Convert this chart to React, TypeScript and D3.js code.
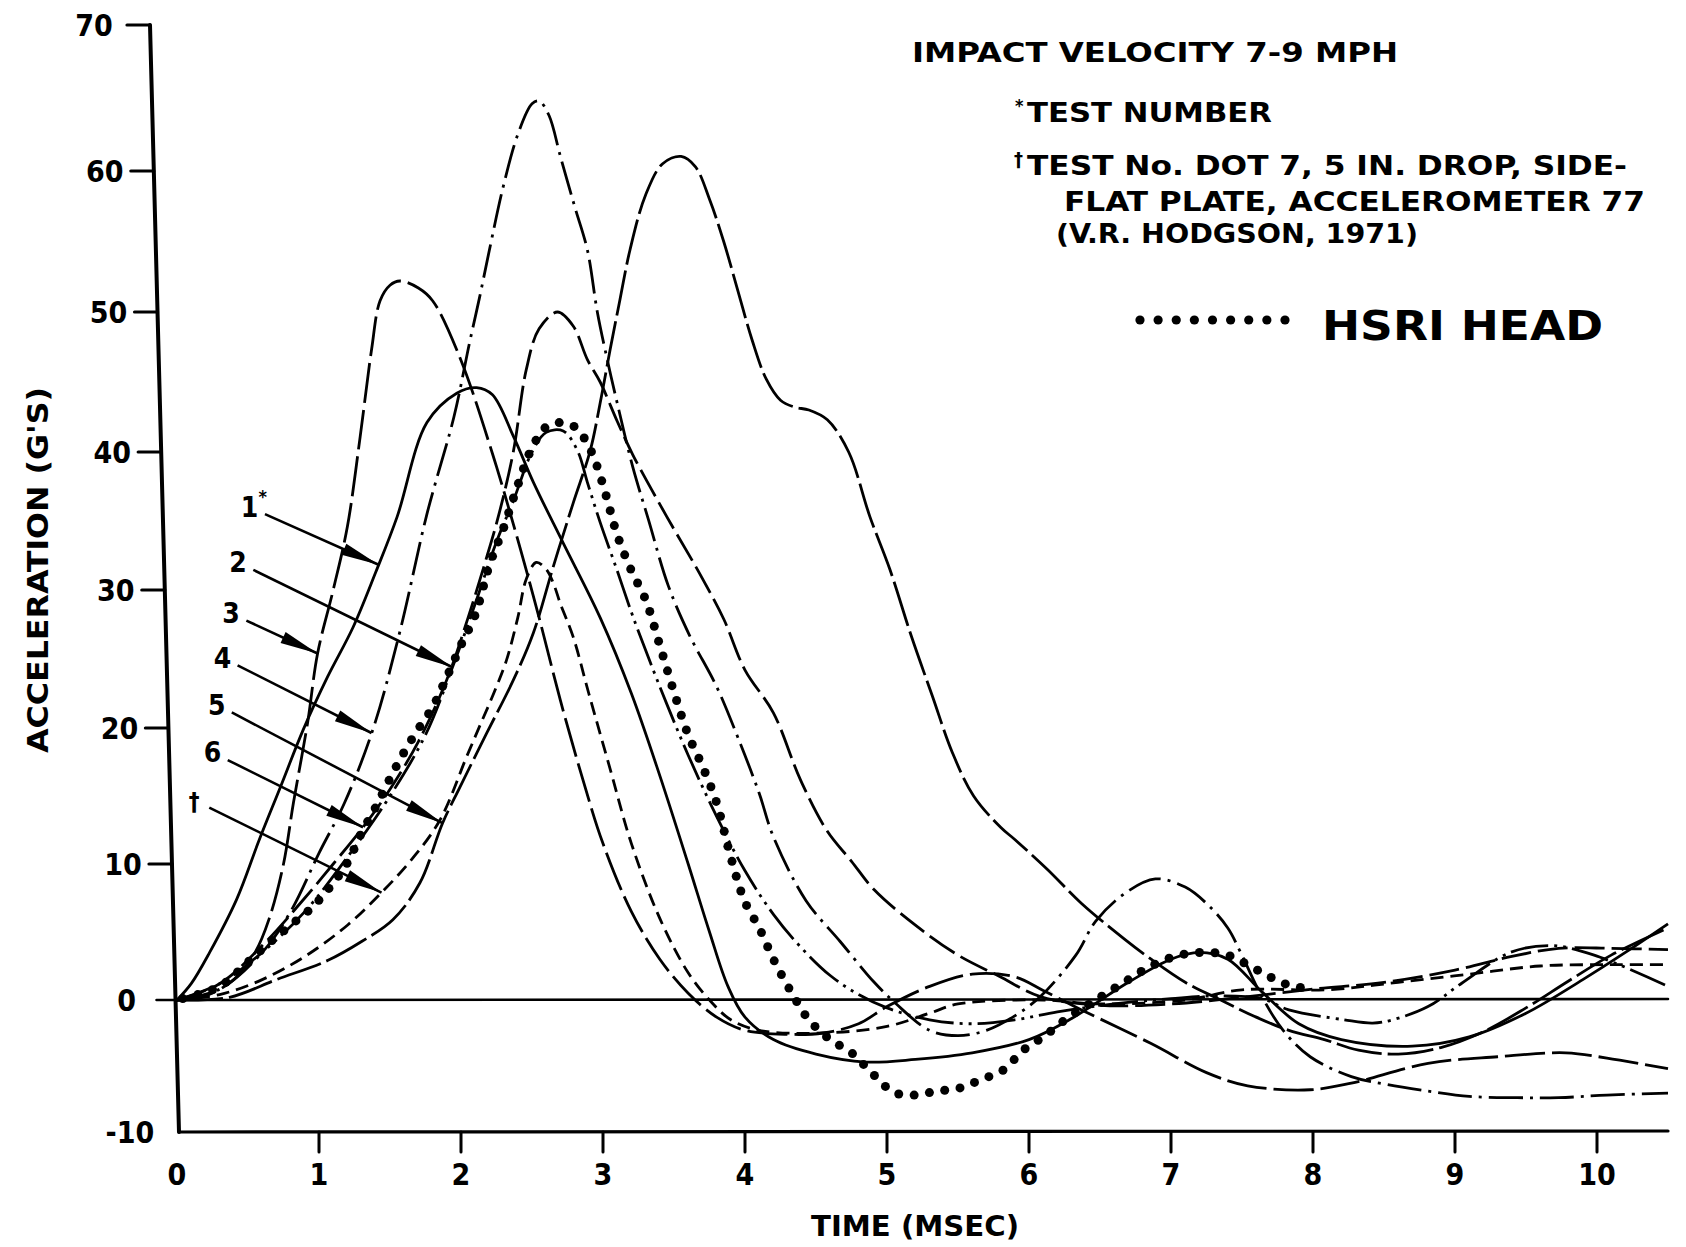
import React, { useEffect, useRef } from "react";
import * as d3 from "d3";

const W = 1686;
const H = 1247;

// axis ticks
const yTickValues = [-10, 0, 10, 20, 30, 40, 50, 60, 70];
const xTickValues = [0, 1, 2, 3, 4, 5, 6, 7, 8, 9, 10];
const xMax = 10.5;

// ---- Test 1 (solid) ----
const t1 = [0, 0.1, 0.23, 0.42, 0.58, 0.73, 0.89, 1.06, 1.24, 1.4, 1.55, 1.76, 1.97, 2.11, 2.22, 2.37, 2.51, 2.72, 2.98, 3.2, 3.4, 3.6, 3.75, 3.88, 4.0, 4.2, 4.5, 4.85, 5.2, 5.6, 6.0, 6.3, 6.7, 7.0, 7.2, 7.4, 7.64, 7.9, 8.2, 8.7, 9.1, 9.5, 9.9, 10.2, 10.5];
const g1 = [0, 1.2, 3.5, 7.4, 11.8, 15.7, 19.9, 23.7, 27.3, 31.3, 35.3, 42.1, 44.2, 44.6, 44.1, 41.1, 37.8, 33.4, 28, 22.5, 16.5, 10, 5, 1, -1.3, -3.0, -4.1, -4.7, -4.5, -4.0, -3.0, -1.4, 1.3, 3.0, 3.5, 3.0, 0.6, -1.8, -3.0, -3.5, -2.8, -1.0, 1.5, 3.5, 5.6];

// ---- Test 2 ----
const t2 = [0, 0.3, 0.6, 0.9, 1.2, 1.5, 1.75, 1.94, 2.1, 2.25, 2.37, 2.5, 2.6, 2.72, 2.82, 2.89, 2.98, 3.1, 3.21, 3.4, 3.6, 3.8, 4.0, 4.2, 4.4, 4.6, 4.8, 5.0, 5.3, 5.6, 5.9, 6.2, 6.6, 7.0, 7.3, 7.64, 7.83, 8.22, 8.42, 8.56, 8.81, 9.05, 9.39, 9.68, 9.98, 10.5];
const g2 = [0, 1.2, 3.5, 6.5, 10.5, 15, 19.5, 24.4, 29, 33.5, 36.5, 40, 41.4, 41.5, 40.1, 37.8, 34.9, 31.4, 28.1, 23, 18, 13.5, 9.5, 6.3, 3.8, 1.8, 0.4, -0.6, -1.5, -1.8, -1.5, -0.9, -0.3, 0.1, 0.3, 0.1, -0.75, -1.5, -1.75, -1.5, -0.5, 1.25, 3.5, 4.0, 3.3, 1.0];

// ---- Test 3 ----
const t3 = [0, 0.2, 0.4, 0.55, 0.65, 0.75, 0.82, 0.92, 0.99, 1.1, 1.2, 1.29, 1.37, 1.43, 1.5, 1.57, 1.7, 1.8, 1.99, 2.23, 2.42, 2.56, 2.7, 2.85, 3.0, 3.2, 3.4, 3.6, 3.8, 4.0, 4.3, 4.55, 4.8, 5.0, 5.3, 5.6, 5.9, 6.1, 6.37, 6.86, 7.25, 7.54, 7.98, 8.27, 8.81, 9.3, 9.78, 10.07, 10.5];
const g3 = [0, 0.3, 1.5, 3.5, 6, 10, 14.5, 20.4, 25.4, 30, 34.6, 41.1, 47.3, 50.8, 51.9, 52.2, 51.7, 50.8, 46.8, 39.6, 32.9, 27.6, 22, 16.5, 11.5, 6.5, 3, 0.5, -1.3, -2.3, -2.6, -2.5, -1.8, -0.5, 1.0, 1.9, 1.7, 0.7, -0.75, -3.3, -5.5, -6.5, -6.8, -6.3, -4.8, -4.3, -4.0, -4.4, -5.2];

// ---- Test 4 ----
const t4 = [0, 0.3, 0.6, 0.8, 1.0, 1.18, 1.38, 1.57, 1.76, 1.95, 2.06, 2.13, 2.2, 2.3, 2.4, 2.5, 2.55, 2.62, 2.7, 2.8, 2.89, 2.96, 3.03, 3.1, 3.21, 3.32, 3.46, 3.61, 3.8, 3.95, 4.1, 4.2, 4.43, 4.67, 4.91, 5.06, 5.3, 5.5, 5.7, 5.9, 6.08, 6.33, 6.47, 6.67, 6.89, 7.1, 7.25, 7.4, 7.49, 7.64, 7.79, 7.98, 8.27, 8.52, 8.81, 9.1, 9.44, 9.73, 10.07, 10.5];
const g4 = [0, 0.8, 3.5, 6.5, 10.8, 14.5, 19.9, 27, 35.5, 42.5, 47.8, 51, 54.4, 59, 62.5, 64.6, 64.8, 63.8, 61, 57.5, 54.4, 50, 46.6, 43.5, 38.9, 35.1, 30.3, 26.7, 23, 19.3, 15.2, 12, 7.3, 4.3, 1.3, -0.25, -2.3, -2.7, -2.3, -1.2, 0.25, 3.3, 5.8, 7.8, 8.9, 8.3, 7.1, 5.3, 3.5, 0.25, -2.3, -4.3, -5.8, -6.4, -6.9, -7.3, -7.4, -7.4, -7.2, -7.05];

// ---- Test 5 ----
const t5 = [0, 0.37, 0.7, 1.06, 1.3, 1.52, 1.71, 1.87, 1.99, 2.18, 2.37, 2.51, 2.65, 2.79, 2.91, 2.98, 3.05, 3.12, 3.19, 3.3, 3.42, 3.55, 3.65, 3.75, 3.85, 3.95, 4.05, 4.15, 4.25, 4.35, 4.45, 4.58, 4.73, 4.88, 5.02, 5.17, 5.32, 5.46, 5.61, 5.8, 5.9, 6.13, 6.37, 6.67, 6.86, 7.1, 7.35, 7.59, 7.83, 8.08, 8.32, 8.6, 8.9, 9.2, 9.5, 9.8, 10.1, 10.5];
const g5 = [0, 0.2, 1.5, 2.9, 4.3, 5.9, 8.6, 13, 15.6, 19.6, 23.5, 26.9, 31.7, 36.3, 40.1, 43.5, 47.3, 50.9, 54.4, 58.3, 60.5, 61, 60.3, 58, 55, 51.5, 48, 45.2, 43.7, 43.2, 43, 42.3, 40, 35.3, 31.5, 26.7, 22.3, 18.2, 15, 12.7, 11.8, 9.6, 7.1, 4.5, 3.0, 1.3, 0, -1.25, -2.3, -3.0, -3.8, -4.1, -3.6, -2.4, -0.6, 1.4, 3.3, 5.3];

// ---- Test 6 ----
const t6 = [0, 0.3, 0.6, 0.9, 1.1, 1.31, 1.5, 1.7, 1.9, 2.05, 2.17, 2.27, 2.37, 2.46, 2.55, 2.68, 2.79, 2.89, 2.98, 3.1, 3.21, 3.45, 3.68, 3.85, 4.0, 4.2, 4.39, 4.58, 4.75, 4.91, 5.2, 5.5, 5.79, 6.08, 6.5, 7.0, 7.5, 8.0, 8.5, 9.0, 9.4, 9.73, 10.1, 10.5];
const g6 = [0, 1.2, 4, 7.5, 10, 12.7, 15.5, 19, 23.5, 28, 32, 35.6, 40.1, 45.9, 48.8, 50, 49, 46.6, 45, 42.2, 39.8, 35.3, 31.2, 27.9, 24.2, 21.1, 16.2, 12.4, 10.2, 8.1, 5.5, 3.3, 1.75, 0.25, -0.4, -0.3, 0.2, 0.8, 1.3, 2.2, 3.2, 3.8, 3.8, 3.7];

// ---- Test DOT 7 (dagger) ----
const tD = [0, 0.3, 0.6, 0.9, 1.2, 1.44, 1.65, 1.85, 2.04, 2.13, 2.23, 2.32, 2.4, 2.46, 2.53, 2.6, 2.65, 2.7, 2.79, 2.9, 3.05, 3.2, 3.4, 3.6, 3.75, 3.9, 4.1, 4.55, 5.0, 5.3, 5.5, 6.1, 6.5, 7.1, 7.5, 8.1, 8.6, 9.1, 9.6, 10.1, 10.5];
const gD = [0, 0.4, 1.5, 3.2, 5.5, 7.9, 10.3, 13.2, 17.9, 20.1, 22.5, 24.9, 28, 30.8, 32, 31.5, 30.5, 29, 26.6, 22.5, 17, 11.5, 6, 2, 0, -1.5, -2.3, -2.5, -2.0, -1.0, -0.3, 0, -0.3, 0, 0.75, 0.75, 1.3, 1.9, 2.5, 2.6, 2.6];

// ---- HSRI head (dotted) ----
const tH = [0, 0.3, 0.5, 0.65, 0.8, 0.95, 1.1, 1.2, 1.3, 1.4, 1.52, 1.62, 1.71, 1.8, 1.9, 2.0, 2.1, 2.2, 2.3, 2.4, 2.5, 2.6, 2.7, 2.8, 2.88, 2.95, 3.02, 3.1, 3.2, 3.3, 3.4, 3.5, 3.6, 3.7, 3.8, 3.9, 4.0, 4.1, 4.2, 4.33, 4.45, 4.6, 4.75, 4.9, 5.05, 5.2, 5.35, 5.5, 5.67, 5.82, 5.96, 6.1, 6.28, 6.47, 6.67, 6.86, 7.06, 7.25, 7.4, 7.59, 7.8, 7.98];
const gH = [0, 1.0, 2.8, 4.2, 5.5, 6.8, 8.6, 10.1, 12.3, 14.2, 16.7, 18.6, 20.1, 21.5, 23.7, 26, 28.2, 31.8, 34.5, 37.6, 40.3, 41.8, 42.1, 41.8, 40.8, 39.2, 36.9, 34.0, 31.4, 29.3, 26.0, 22.6, 19.5, 17.2, 14.5, 10.5, 7.2, 5.3, 3.0, 0.5, -1.5, -3.0, -4.0, -5.6, -7.0, -7.2, -6.9, -6.7, -6.0, -5.3, -3.8, -2.8, -1.3, 0, 1.3, 2.5, 3.3, 3.5, 3.3, 2.3, 1.2, 0.8];

// curve labels (arrows)
const labelNames = ["1", "2", "3", "4", "5", "6", "\u2020"];
const labelT = [0.51, 0.43, 0.38, 0.32, 0.28, 0.25, 0.12];
const labelV = [36.0, 32.0, 28.3, 25.1, 21.7, 18.2, 14.7];
const tipT = [1.42, 1.94, 0.99, 1.37, 1.87, 1.31, 1.44];

const series = [
  { t: t1, g: g1, dash: "" },
  { t: t2, g: g2, dash: "38 6 3 6 3 6" },
  { t: t3, g: g3, dash: "40 7" },
  { t: t4, g: g4, dash: "34 7 3 7" },
  { t: t5, g: g5, dash: "46 6" },
  { t: t6, g: g6, dash: "30 7" },
  { t: tD, g: gD, dash: "13 7" },
];

function interp(ts: number[], vs: number[], t: number) {
  const i = Math.max(1, Math.min(ts.length - 1, d3.bisectLeft(ts, t)));
  const a = ts[i - 1], b = ts[i];
  const f = (t - a) / (b - a);
  return vs[i - 1] + f * (vs[i] - vs[i - 1]);
}

const FONT = "'DejaVu Sans Condensed', 'DejaVu Sans', sans-serif";

export default function App() {
  const ref = useRef<SVGSVGElement>(null);

  useEffect(() => {
    const svg = d3.select(ref.current as SVGSVGElement);
    svg.selectAll("*").remove();

    const x = d3.scaleLinear().domain([0, 10]).range([177, 1597]);
    const y = d3.scaleLinear().domain(yTickValues).range([1132, 1000, 864, 728, 590, 452, 312, 171, 25]);
    const yBottom = y(-10);
    const axisX = (py: number) => 179 - (29 / 1107) * (yBottom - py);
    const curveGen = d3.line().curve(d3.curveCatmullRom.alpha(0.5));

    svg.append("rect").attr("width", W).attr("height", H).attr("fill", "#fff");

    const axes = svg.append("g").attr("stroke", "#000").attr("fill", "none").attr("stroke-linecap", "round");
    // y axis (slightly slanted as in the original drawing)
    axes.append("line")
      .attr("x1", axisX(y(70))).attr("y1", y(70))
      .attr("x2", axisX(yBottom)).attr("y2", yBottom)
      .attr("stroke-width", 4);
    // x axis
    axes.append("line")
      .attr("x1", axisX(yBottom)).attr("y1", yBottom)
      .attr("x2", x(xMax)).attr("y2", yBottom - 1)
      .attr("stroke-width", 3.2);
    // zero line
    axes.append("line")
      .attr("x1", axisX(y(0)) - 19).attr("y1", y(0))
      .attr("x2", x(xMax)).attr("y2", y(0) - 1)
      .attr("stroke-width", 2.6);
    // y ticks
    yTickValues.filter(v => v > 0).forEach(v => {
      const py = y(v);
      axes.append("line")
        .attr("x1", axisX(py) - 23).attr("y1", py)
        .attr("x2", axisX(py)).attr("y2", py)
        .attr("stroke-width", 3.2);
    });
    // x ticks
    xTickValues.filter(t => t > 0).forEach(t => {
      axes.append("line")
        .attr("x1", x(t)).attr("y1", yBottom)
        .attr("x2", x(t)).attr("y2", yBottom + 20)
        .attr("stroke-width", 3);
    });

    const texts = svg.append("g").attr("fill", "#000").attr("font-family", FONT).attr("font-weight", "bold");
    yTickValues.forEach(v => {
      const py = y(v);
      texts.append("text")
        .attr("x", axisX(py) - (v === 70 ? 56 : 49)).attr("y", py + 11)
        .attr("text-anchor", "middle").attr("font-size", 30)
        .text(String(v));
    });
    xTickValues.forEach(t => {
      texts.append("text")
        .attr("x", x(t)).attr("y", yBottom + 53)
        .attr("text-anchor", "middle").attr("font-size", 30)
        .text(String(t));
    });

    // axis titles
    texts.append("text")
      .attr("x", 811).attr("y", 1236).attr("font-size", 28)
      .attr("textLength", 208).attr("lengthAdjust", "spacingAndGlyphs")
      .text("TIME  (MSEC)");
    texts.append("text")
      .attr("transform", "translate(48,753) rotate(-90)")
      .attr("x", 0).attr("y", 0).attr("font-size", 28)
      .attr("textLength", 366).attr("lengthAdjust", "spacingAndGlyphs")
      .text("ACCELERATION  (G'S)");

    // header notes
    const note = (s: string, px: number, py: number, len: number, size = 27) =>
      texts.append("text").attr("x", px).attr("y", py).attr("font-size", size)
        .attr("textLength", len).attr("lengthAdjust", "spacingAndGlyphs").text(s);
    note("IMPACT  VELOCITY  7-9  MPH", 912, 62, 486);
    texts.append("text").attr("x", 1015).attr("y", 112).attr("font-size", 18).text("*");
    note("TEST  NUMBER", 1027, 122, 245);
    texts.append("text").attr("x", 1014).attr("y", 166).attr("font-size", 20).text("\u2020");
    note("TEST  No.  DOT  7,  5  IN.  DROP,  SIDE-", 1027, 175, 600);
    note("FLAT  PLATE,  ACCELEROMETER  77", 1064, 211, 581);
    note("(V.R.  HODGSON,  1971)", 1056, 243, 362);
    note("HSRI   HEAD", 1322, 340, 281, 40);

    // legend dots
    const legendX = d3.scaleLinear().domain([0, 8]).range([1140, 1285]);
    d3.range(9).forEach(i => {
      svg.append("circle").attr("cx", legendX(i)).attr("cy", 320).attr("r", 4.6).attr("fill", "#000");
    });

    const curves = svg.append("g").attr("fill", "none").attr("stroke", "#000").attr("stroke-width", 2.8);
    series.forEach(s => {
      const pts: [number, number][] = s.t.map((t, i) => [x(t), y(s.g[i])]);
      const p = curves.append("path").attr("d", curveGen(pts) as string);
      if (s.dash) p.attr("stroke-dasharray", s.dash);
    });

    // HSRI dotted curve
    const hPts: [number, number][] = tH.map((t, i) => [x(t), y(gH[i])]);
    const hPath = svg.append("path")
      .attr("d", curveGen(hPts) as string)
      .attr("fill", "none").attr("stroke", "none");
    const node = hPath.node() as SVGPathElement;
    const total = node.getTotalLength();
    const dots = svg.append("g").attr("fill", "#000");
    for (let l = 6; l <= total; l += 15.5) {
      const p = node.getPointAtLength(l);
      dots.append("circle").attr("cx", p.x).attr("cy", p.y).attr("r", 4.5);
    }

    // arrows with labels
    const arr = svg.append("g");
    labelNames.forEach((name, i) => {
      const s = series[i];
      const lx = x(labelT[i]);
      const ly = y(labelV[i]);
      const tx = x(tipT[i]);
      const ty = y(interp(s.t, s.g, tipT[i]));
      const dx = tx - lx, dy = ty - ly;
      const len = Math.hypot(dx, dy);
      const ux = dx / len, uy = dy / len;
      const sx = lx + ux * 17, sy = ly + uy * 17;
      arr.append("line").attr("x1", sx).attr("y1", sy).attr("x2", tx).attr("y2", ty)
        .attr("stroke", "#000").attr("stroke-width", 2.6);
      const hl = 38, hw = 6;
      const bx = tx - ux * hl, by = ty - uy * hl;
      const nx = -uy, ny = ux;
      arr.append("path")
        .attr("d", `M${tx},${ty}L${bx + nx * hw},${by + ny * hw}L${bx - nx * hw},${by - ny * hw}Z`)
        .attr("fill", "#000");
      arr.append("text")
        .attr("x", lx).attr("y", ly + 10)
        .attr("text-anchor", "middle")
        .attr("font-family", FONT).attr("font-weight", "bold")
        .attr("font-size", name === "\u2020" ? 24 : 28)
        .text(name);
      if (i === 0) {
        arr.append("text").attr("x", lx + 9).attr("y", ly - 4)
          .attr("font-family", FONT).attr("font-weight", "bold").attr("font-size", 18).text("*");
      }
    });
  }, []);

  return (
    <svg
      ref={ref}
      width={W}
      height={H}
      style={{ position: "absolute", left: 0, top: 0, background: "#fff" }}
    />
  );
}
